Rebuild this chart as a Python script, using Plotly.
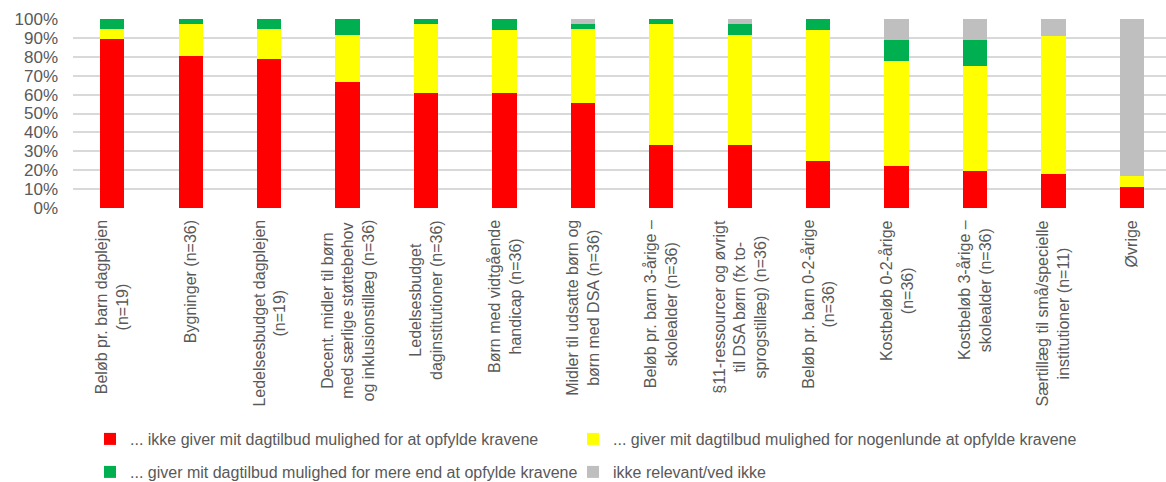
import plotly.graph_objects as go

categories = [
    "Beløb pr. barn dagplejen<br>(n=19)",
    "Bygninger (n=36)",
    "Ledelsesbudget dagplejen<br>(n=19)",
    "Decent. midler til børn<br>med særlige støttebehov<br>og inklusionstillæg (n=36)",
    "Ledelsesbudget<br>daginstitutioner (n=36)",
    "Børn med vidtgående<br>handicap (n=36)",
    "Midler til udsatte børn og<br>børn med DSA (n=36)",
    "Beløb pr. barn 3-årige –<br>skolealder (n=36)",
    "§11-ressourcer og øvrigt<br>til DSA børn (fx to-<br>sprogstillæg) (n=36)",
    "Beløb pr. barn 0-2-årige<br>(n=36)",
    "Kostbeløb 0-2-årige<br>(n=36)",
    "Kostbeløb 3-årige –<br>skolealder (n=36)",
    "Særtillæg til små/specielle<br>institutioner (n=11)",
    "Øvrige",
]

ikke_giver = [89.5, 80.6, 78.9, 66.7, 61.1, 61.1, 55.6, 33.3, 33.3, 25.0, 22.2, 19.4, 18.2, 11.1]
nogenlunde = [5.3, 16.7, 15.8, 25.0, 36.1, 33.3, 38.9, 63.9, 58.3, 69.4, 55.6, 55.6, 72.7, 5.6]
mere_end = [5.3, 2.8, 5.3, 8.3, 2.8, 5.6, 2.8, 2.8, 5.6, 5.6, 11.1, 13.9, 0.0, 0.0]
ikke_relevant = [0.0, 0.0, 0.0, 0.0, 0.0, 0.0, 2.8, 0.0, 2.8, 0.0, 11.1, 11.1, 9.1, 83.3]

series_names = [
    "... ikke giver mit dagtilbud mulighed for at opfylde kravene",
    "... giver mit dagtilbud mulighed for nogenlunde at opfylde kravene",
    "... giver mit dagtilbud mulighed for mere end at opfylde kravene",
    "ikke relevant/ved ikke",
]
y_ticks = [0, 10, 20, 30, 40, 50, 60, 70, 80, 90, 100]
y_tick_labels = ["0%", "10%", "20%", "30%", "40%", "50%", "60%", "70%", "80%", "90%", "100%"]

colors = ["#ff0000", "#ffff00", "#00b050", "#bfbfbf"]
legend_ids = ["legend", "legend2", "legend3", "legend4"]
FONT = "Liberation Sans, Arial, sans-serif"
GREY = "#595959"

x_idx = list(range(len(categories)))
fig = go.Figure()
for name, vals, col, lg in zip(series_names, [ikke_giver, nogenlunde, mere_end, ikke_relevant], colors, legend_ids):
    fig.add_trace(go.Bar(
        x=x_idx, y=vals, name=name, marker=dict(color=col, line=dict(width=0)),
        width=0.31, legend=lg,
    ))

for i, lab in enumerate(categories):
    fig.add_annotation(
        x=i, xref="x", y=0, yref="paper", yanchor="top", xanchor="center",
        yshift=-10, text=lab, textangle=-90, align="center", showarrow=False,
        font=dict(family=FONT, size=16, color=GREY),
    )

legend_common = dict(
    orientation="h", xref="container", yref="container", xanchor="left", yanchor="middle",
    font=dict(family=FONT, size=16, color=GREY),
    bgcolor="rgba(0,0,0,0)", itemclick=False, itemdoubleclick=False,
)
col_x = [90 / 1166, 573 / 1166]
row_y = [1 - 439 / 482, 1 - 472 / 482]

fig.update_layout(
    width=1166, height=482,
    margin=dict(l=73, r=0, t=19, b=274),
    paper_bgcolor="white", plot_bgcolor="white",
    barmode="stack",
    showlegend=True,
    legend=dict(x=col_x[0], y=row_y[0], **legend_common),
    legend2=dict(x=col_x[1], y=row_y[0], **legend_common),
    legend3=dict(x=col_x[0], y=row_y[1], **legend_common),
    legend4=dict(x=col_x[1], y=row_y[1], **legend_common),
    xaxis=dict(range=[-0.5, 13.435], showticklabels=False, showgrid=False, zeroline=False,
               showline=False, ticks=""),
    yaxis=dict(range=[0, 100], tickvals=y_ticks, ticktext=y_tick_labels, showgrid=True,
               gridcolor="#d9d9d9", gridwidth=1.6, zeroline=False, showline=False,
               tickfont=dict(family=FONT, size=17, color=GREY), ticks="",
               ticklabelstandoff=14),
)

fig.write_html(
    "out.html",
    config={"displayModeBar": False},
    post_script="document.body.style.margin='0';document.body.style.overflow='hidden';",
)
